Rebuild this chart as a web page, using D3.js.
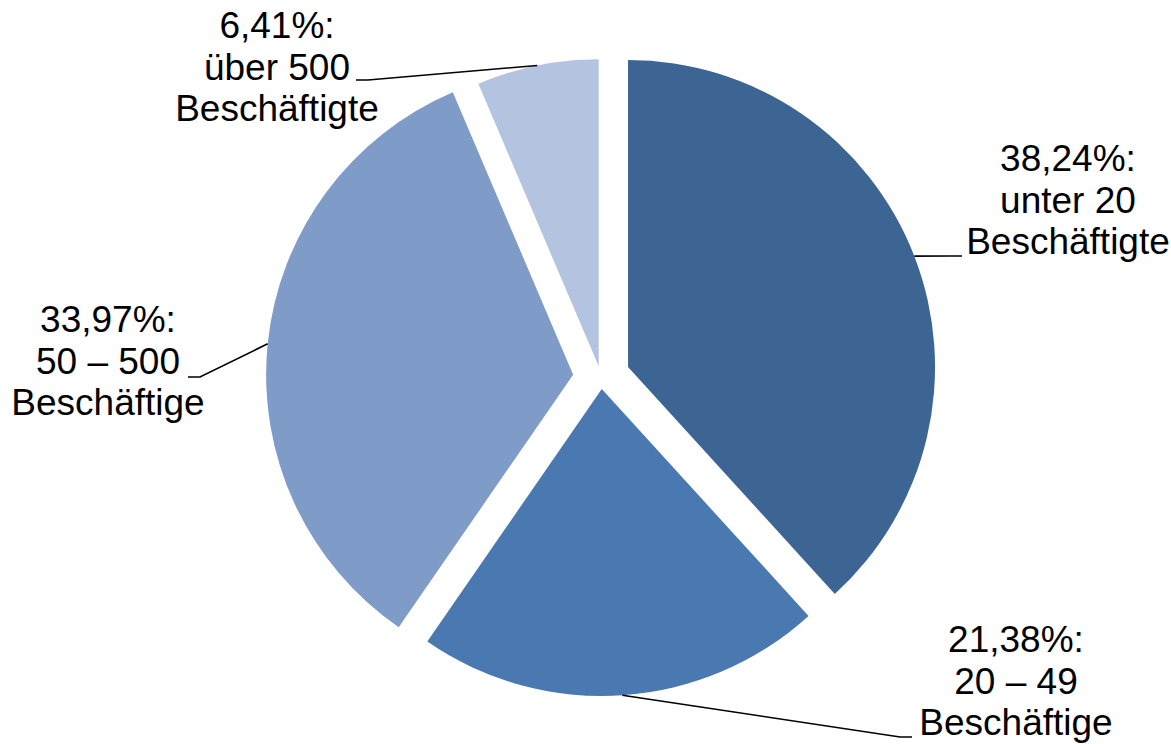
<!DOCTYPE html>
<html>
<head>
<meta charset="utf-8">
<script src="https://cdn.jsdelivr.net/npm/d3@7"></script>
<style>
  body { margin: 0; background: #fff; }
  svg { display: block; }
  text { font-family: "Liberation Sans", Arial, sans-serif; font-size: 37px; fill: #000; }
</style>
</head>
<body>
<svg id="svg"></svg>
<script>
// data
const categories = ["unter 20 Beschäftigte", "20 – 49 Beschäftige", "50 – 500 Beschäftige", "über 500 Beschäftigte"];
const values = [38.24, 21.38, 33.97, 6.41];
const labelLines = [
  ["38,24%:", "unter 20", "Beschäftigte"],
  ["21,38%:", "20 – 49", "Beschäftige"],
  ["33,97%:", "50 – 500", "Beschäftige"],
  ["6,41%:", "über 500", "Beschäftigte"]
];

// layout / style
const colors = ["#3D6594", "#4A78B0", "#7F9BC8", "#B4C3DF"];
const explode = [29, 11.5, 28, 11.5];
const labelPos = [
  {x: 1068, y: 171, endX: 962, endY: 256, tail: 12},
  {x: 1016, y: 652, endX: 912, endY: 737, tail: 12},
  {x: 108, y: 332, endX: 188, endY: 377, tail: -12},
  {x: 277, y: 38, endX: 356, endY: 80, tail: -12}
];
const lineHeight = 41.7;

const width = 1171, height = 744;
const cx = 601, cy = 377.5, radius = 307;

const svg = d3.select("#svg")
  .attr("width", width)
  .attr("height", height);

const pie = d3.pie().sort(null).value(d => d)(values);
const arc = d3.arc().innerRadius(0).outerRadius(radius);
const edge = d3.arc().innerRadius(radius).outerRadius(radius);

const offset = (d, i) => {
  const mid = (d.startAngle + d.endAngle) / 2;
  return [cx + Math.sin(mid) * explode[i], cy - Math.cos(mid) * explode[i]];
};

svg.append("g")
  .selectAll("path")
  .data(pie)
  .enter()
  .append("path")
  .attr("transform", (d, i) => `translate(${offset(d, i)})`)
  .attr("d", arc)
  .attr("fill", (d, i) => colors[i]);

// leader lines
svg.append("g")
  .selectAll("polyline")
  .data(pie)
  .enter()
  .append("polyline")
  .attr("points", (d, i) => {
    const o = offset(d, i);
    const c = edge.centroid(d);
    const p = labelPos[i];
    return [[o[0] + c[0], o[1] + c[1]], [p.endX - p.tail, p.endY], [p.endX, p.endY]].join(" ");
  })
  .attr("fill", "none")
  .attr("stroke", "#000")
  .attr("stroke-width", 1.6);

// labels
const labels = svg.append("g")
  .selectAll("text")
  .data(pie)
  .enter()
  .append("text")
  .attr("text-anchor", "middle")
  .attr("x", (d, i) => labelPos[i].x)
  .attr("y", (d, i) => labelPos[i].y);

labels.selectAll("tspan")
  .data((d, i) => labelLines[i].map(t => ({t, x: labelPos[i].x})))
  .enter()
  .append("tspan")
  .attr("x", d => d.x)
  .attr("dy", (d, j) => j === 0 ? 0 : lineHeight)
  .text(d => d.t);
</script>
</body>
</html>
